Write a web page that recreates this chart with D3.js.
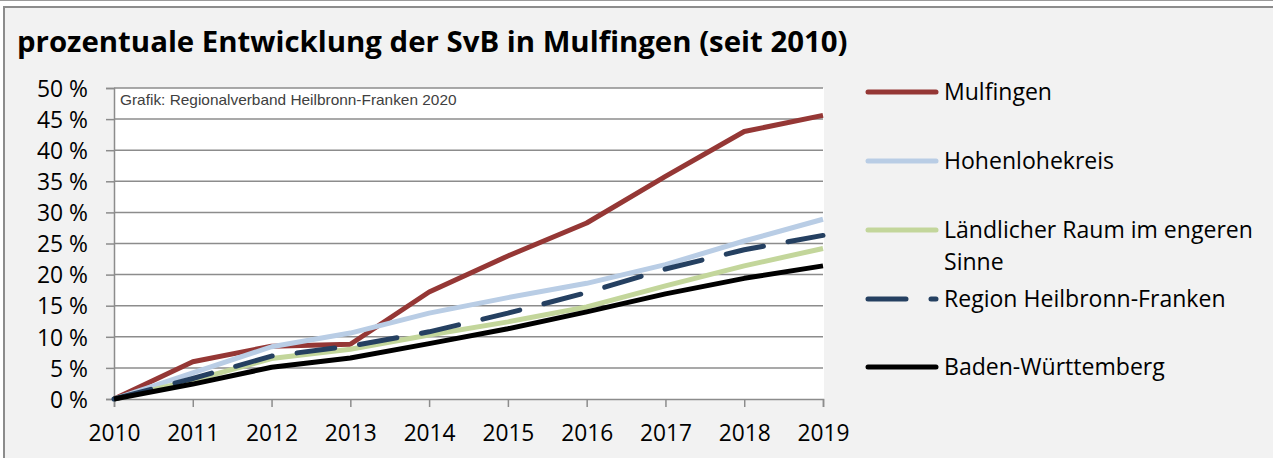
<!DOCTYPE html>
<html>
<head>
<meta charset="utf-8">
<script src="https://cdn.jsdelivr.net/npm/d3@7"></script>
<style>
  html, body { margin: 0; padding: 0; background: #fff; }
  svg { display: block; }
</style>
</head>
<body>
<div id="chart"></div>
<script>
// data (percent growth since 2010)
const years = [2010, 2011, 2012, 2013, 2014, 2015, 2016, 2017, 2018, 2019];
const mulfingen = [0, 6.0, 8.5, 8.8, 17.2, 23.0, 28.3, 35.8, 43.0, 45.6];
const hohenlohe = [0, 4.2, 8.4, 10.6, 13.8, 16.3, 18.6, 21.6, 25.4, 28.9];
const laendlich = [0, 3.0, 6.5, 8.0, 10.3, 12.4, 14.8, 18.2, 21.4, 24.2];
const region = [0, 3.3, 6.9, 8.5, 10.8, 13.8, 17.1, 20.9, 24.0, 26.3];
const bw = [0, 2.4, 5.1, 6.6, 8.9, 11.3, 14.0, 16.9, 19.4, 21.4];
const yTicks = [0, 5, 10, 15, 20, 25, 30, 35, 40, 45, 50];

const series = [
  { name: "Mulfingen", values: mulfingen, color: "#953735", dash: null },
  { name: "Hohenlohekreis", values: hohenlohe, color: "#b9cde5", dash: null },
  { name: "Ländlicher Raum im engeren|Sinne", values: laendlich, color: "#c3d69b", dash: null },
  { name: "Region Heilbronn-Franken", values: region, color: "#254061", dash: "38,25" },
  { name: "Baden-Württemberg", values: bw, color: "#000000", dash: null }
];

const width = 1273, height = 458;
const font = "'Open Sans', 'Noto Sans', sans-serif";

const svg = d3.select("#chart").append("svg")
  .attr("width", width).attr("height", height);

// shrink/grow a text so it spans w pixels
function fit(sel, w) {
  const size = parseFloat(sel.attr("font-size"));
  const l = sel.node().getComputedTextLength();
  const s = size * w / l;
  sel.attr("font-size", s);
  return s;
}

// page + chart frame
svg.append("line").attr("x1", 0).attr("x2", width).attr("y1", 0.5).attr("y2", 0.5)
  .attr("stroke", "#9a9a9a");
svg.append("rect").attr("x", 4).attr("y", 7).attr("width", width + 10).attr("height", height)
  .attr("fill", "#f2f2f2").attr("stroke", "#8c8c8c").attr("stroke-width", 2);

const title = svg.append("text")
  .attr("x", 17).attr("y", 52)
  .attr("font-family", font).attr("font-weight", "bold").attr("font-size", 24)
  .attr("fill", "#000")
  .text("prozentuale Entwicklung der SvB in Mulfingen (seit 2010)");
fit(title, 831);

const x = d3.scaleLinear().domain([2010, 2019]).range([114, 823]);
const y = d3.scaleLinear().domain([0, 50]).range([399, 88]);

svg.append("rect")
  .attr("x", x(2010)).attr("y", y(50))
  .attr("width", x(2019) - x(2010) + 1).attr("height", y(0) - y(50))
  .attr("fill", "#fff");

// gridlines
svg.append("g").selectAll("line")
  .data(yTicks.filter(d => d > 0))
  .join("line")
  .attr("x1", x(2010)).attr("x2", x(2019))
  .attr("y1", d => y(d)).attr("y2", d => y(d))
  .attr("stroke", "#8c8c8c").attr("stroke-width", 1.5);

// y axis
const yAxis = svg.append("g")
  .attr("transform", `translate(${x(2010)},0)`)
  .call(d3.axisLeft(y).tickValues(yTicks).tickSize(8).tickPadding(18)
    .tickFormat(d => d + " %"));
yAxis.attr("font-family", font).attr("font-size", 18);
yAxis.select(".domain").attr("stroke", "#8c8c8c").attr("stroke-width", 1.5);
yAxis.selectAll(".tick line").attr("stroke", "#8c8c8c").attr("stroke-width", 1.5);
yAxis.selectAll(".tick text").attr("fill", "#000").attr("dy", "0.36em");
{
  const t = yAxis.selectAll(".tick text").filter(d => d === 50).node();
  yAxis.attr("font-size", 18 * 51 / t.getComputedTextLength());
}

// x axis
const xAxis = svg.append("g")
  .attr("transform", `translate(0,${y(0)})`)
  .call(d3.axisBottom(x).tickValues(years).tickSize(8).tickPadding(14)
    .tickFormat(d3.format("d")));
xAxis.attr("font-family", font).attr("font-size", 19);
xAxis.select(".domain").attr("stroke", "#8c8c8c").attr("stroke-width", 1.5);
xAxis.selectAll(".tick line").attr("stroke", "#8c8c8c").attr("stroke-width", 1.5);
xAxis.selectAll(".tick text").attr("fill", "#000");
{
  const t = xAxis.select(".tick text").node();
  xAxis.attr("font-size", 19 * 52 / t.getComputedTextLength());
  xAxis.selectAll(".tick text").attr("y", 42).attr("dy", null);
}

// source note
const src = svg.append("text")
  .attr("x", 120).attr("y", 105)
  .attr("font-family", "'Liberation Sans', Arial, sans-serif").attr("font-size", 12)
  .attr("fill", "#404040")
  .text("Grafik: Regionalverband Heilbronn-Franken 2020");
fit(src, 337);

// lines
const line = d3.line()
  .x((d, i) => x(years[i]))
  .y(d => y(d));

svg.append("g").selectAll("path")
  .data(series)
  .join("path")
  .attr("d", d => line(d.values))
  .attr("fill", "none")
  .attr("stroke", d => d.color)
  .attr("stroke-width", 5)
  .attr("stroke-linejoin", "round")
  .attr("stroke-linecap", d => d.dash ? "round" : "butt")
  .attr("stroke-dasharray", d => d.dash);

// legend
const legendY = [92, 161, 230, 299, 367];
const leg = svg.append("g").selectAll("g")
  .data(series)
  .join("g")
  .attr("transform", (d, i) => `translate(0,${legendY[i]})`);

leg.append("line")
  .attr("x1", 868).attr("x2", 936)
  .attr("stroke", d => d.color).attr("stroke-width", 5)
  .attr("stroke-linecap", "round")
  .attr("stroke-dasharray", d => d.dash);

const legText = leg.append("text")
  .attr("x", 944).attr("y", 0)
  .attr("font-family", font).attr("font-size", 20).attr("fill", "#000");
legText.selectAll("tspan")
  .data(d => d.name.split("|"))
  .join("tspan")
  .attr("x", 944)
  .attr("y", (d, i) => i * 32)
  .attr("dy", "0.35em")
  .text(d => d);

// size the legend font from the longest label
const probe = legText.filter((d, i) => i === 2).select("tspan");
const lsize = 20 * 309 / probe.node().getComputedTextLength();
legText.attr("font-size", lsize);
</script>
</body>
</html>
